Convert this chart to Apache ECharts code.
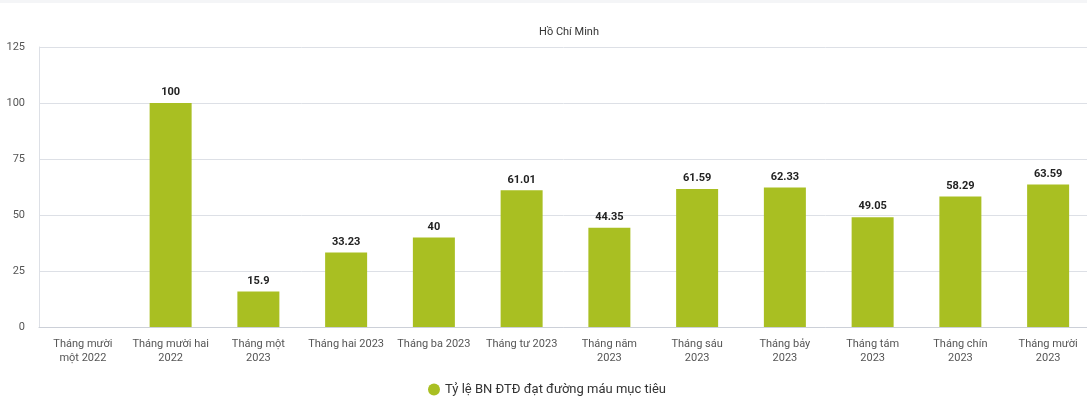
<!DOCTYPE html>
<html><head><meta charset="utf-8">
<script src="https://cdn.jsdelivr.net/npm/echarts@6/dist/echarts.min.js"></script>
<style>html,body{margin:0;padding:0;background:#fff;}#c{width:1087px;height:407px;}</style>
</head><body><div id="c"></div>
<script>
const categories = ["Tháng mười\nmột 2022","Tháng mười hai\n2022","Tháng một\n2023","Tháng hai 2023","Tháng ba 2023","Tháng tư 2023","Tháng năm\n2023","Tháng sáu\n2023","Tháng bảy\n2023","Tháng tám\n2023","Tháng chín\n2023","Tháng mười\n2023"];
const values = [null,100,15.9,33.23,40,61.01,44.35,61.59,62.33,49.05,58.29,63.59];
const seriesName = "Tỷ lệ BN ĐTĐ đạt đường máu mục tiêu";
const titleText = "Hồ Chí Minh";
const yTicks = [0,25,50,75,100,125];

const chart = echarts.init(document.getElementById('c'));
chart.setOption({
  animation:false,
  textStyle:{fontFamily:'Roboto'},
  graphic:[{type:'rect',shape:{x:0,y:0,width:1087,height:3},style:{fill:'#f4f5f7'},silent:true}],
  title:{text:titleText,left:564,top:22,textAlign:'center',textStyle:{fontSize:11,fontWeight:'normal',color:'#333',fontFamily:'Roboto'}},
  legend:{bottom:6,left:423,icon:'circle',itemWidth:12,itemHeight:12,itemGap:10,textStyle:{fontSize:13,color:'#333',fontFamily:'Roboto'}},
  grid:{left:39,width:1053,top:47,bottom:80,containLabel:false,outerBoundsMode:'none'},
  xAxis:{type:'category',data:categories,
    axisLine:{lineStyle:{color:'#ccd0d8'}},axisTick:{show:false},
    axisLabel:{interval:0,fontSize:11,color:'#555',lineHeight:14,margin:10,fontFamily:'Roboto'}},
  yAxis:{type:'value',min:yTicks[0],max:yTicks[yTicks.length-1],interval:25,
    axisLine:{show:true,lineStyle:{color:'#dde0e6'}},axisTick:{show:false},
    axisLabel:{fontSize:11,color:'#555',margin:14,fontFamily:'Roboto'},
    splitLine:{lineStyle:{color:'#dde0e6'}}},
  series:[{name:seriesName,type:'bar',data:values,barWidth:42,
    itemStyle:{color:'#a9bf22'},
    label:{show:true,position:'top',fontSize:11,fontWeight:'bold',color:'#222',distance:5,fontFamily:'Roboto'}}]
});
</script></body></html>
